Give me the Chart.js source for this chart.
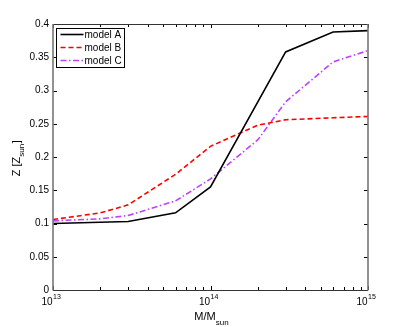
<!DOCTYPE html>
<html>
<head>
<meta charset="utf-8">
<script src="https://cdn.jsdelivr.net/npm/chart.js@4/dist/chart.umd.min.js"></script>
<style>
html,body{margin:0;padding:0;background:#fff;}
canvas{display:block;}
</style>
</head>
<body>
<canvas id="c" width="406" height="327"></canvas>
<script>
// ---- data ----
const massA = [1e13, 3e13, 6e13, 1e14, 3e14, 6e14, 1e15];
const modelA = [0.100, 0.103, 0.116, 0.155, 0.358, 0.388, 0.390];
const massBC = [1e13, 2e13, 3e13, 6e13, 1e14, 2e14, 3e14, 6e14, 1e15];
const modelB = [0.106, 0.116, 0.128, 0.174, 0.216, 0.248, 0.256, 0.259, 0.261];
const modelC = [0.104, 0.107, 0.112, 0.134, 0.167, 0.226, 0.283, 0.343, 0.360];
const seriesNames = ['model A', 'model B', 'model C'];
const yTicks = [0, 0.05, 0.1, 0.15, 0.2, 0.25, 0.3, 0.35, 0.4];
const xMajor = [1e13, 1e14, 1e15];
const xMajorExp = ['13', '14', '15'];

const FONT = '"Liberation Sans", Arial, Helvetica, sans-serif';
const pts = (xs, ys) => xs.map((x, i) => ({x: x, y: ys[i]}));

const framePlugin = {
  id: 'frame',
  afterDraw(chart) {
    const ctx = chart.ctx;
    const a = chart.chartArea;
    const xs = chart.scales.x, ys = chart.scales.y;
    ctx.save();
    // ticks
    ctx.strokeStyle = '#000';
    ctx.lineWidth = 1;
    ctx.beginPath();
    yTicks.forEach(v => {
      const y = Math.round(ys.getPixelForValue(v)) + 0.5;
      ctx.moveTo(a.left, y); ctx.lineTo(a.left + 4, y);
      ctx.moveTo(a.right, y); ctx.lineTo(a.right - 4, y);
    });
    for (let d = 13; d < 15; d++) {
      for (let m = 1; m <= 10; m++) {
        const v = m * Math.pow(10, d);
        const x = Math.round(xs.getPixelForValue(v)) + 0.5;
        const len = (m === 1 || m === 10) ? 4 : 3;
        ctx.moveTo(x, a.bottom); ctx.lineTo(x, a.bottom - len);
        ctx.moveTo(x, a.top); ctx.lineTo(x, a.top + len);
      }
    }
    ctx.stroke();
    // frame
    ctx.strokeStyle = '#333';
    ctx.lineWidth = 1;
    ctx.beginPath();
    ctx.moveTo(a.left, Math.round(a.top) + 0.5); ctx.lineTo(a.right, Math.round(a.top) + 0.5);
    ctx.moveTo(a.left, Math.round(a.bottom) + 0.5); ctx.lineTo(a.right, Math.round(a.bottom) + 0.5);
    ctx.stroke();
    ctx.strokeStyle = '#777';
    ctx.lineWidth = 1.6;
    ctx.beginPath();
    ctx.moveTo(a.left, a.top); ctx.lineTo(a.left, a.bottom + 0.5);
    ctx.moveTo(a.right, a.top); ctx.lineTo(a.right, a.bottom + 0.5);
    ctx.stroke();

    // x tick labels with superscripts
    ctx.fillStyle = '#000';
    ctx.textBaseline = 'alphabetic';
    xMajor.forEach((v, i) => {
      const x = xs.getPixelForValue(v);
      ctx.font = '10px ' + FONT;
      ctx.textAlign = 'right';
      ctx.fillText('10', x - 0.5, a.bottom + 15);
      ctx.font = '7px ' + FONT;
      ctx.textAlign = 'left';
      ctx.fillText(xMajorExp[i], x, a.bottom + 9);
    });
    // x title
    const cx = (a.left + a.right) / 2;
    ctx.font = '11px ' + FONT;
    ctx.textAlign = 'left';
    const t1 = 'M/M';
    const w1 = ctx.measureText(t1).width;
    ctx.font = '8px ' + FONT;
    const w2 = ctx.measureText('sun').width;
    const sx = cx - (w1 + w2) / 2 + 1;
    ctx.font = '11px ' + FONT;
    ctx.fillText(t1, sx, a.bottom + 30);
    ctx.font = '8px ' + FONT;
    ctx.fillText('sun', sx + w1, a.bottom + 35);

    // y title rotated
    ctx.save();
    ctx.translate(19.5, 158.5);
    ctx.rotate(-Math.PI / 2);
    ctx.font = '11px ' + FONT;
    const p1 = 'Z [Z', p3 = ']';
    const q1 = ctx.measureText(p1).width, q3 = ctx.measureText(p3).width;
    ctx.font = '8px ' + FONT;
    const q2 = ctx.measureText('sun').width;
    let tx = -(q1 + q2 + q3) / 2;
    ctx.textAlign = 'left';
    ctx.font = '11px ' + FONT;
    ctx.fillText(p1, tx, 0);
    ctx.font = '8px ' + FONT;
    ctx.fillText('sun', tx + q1, 4);
    ctx.font = '11px ' + FONT;
    ctx.fillText(p3, tx + q1 + q2 + 0.5, 0);
    ctx.restore();

    // legend
    const lx = a.left + 3.5, ly = a.top + 4.5, lw = 68, lh = 39;
    ctx.fillStyle = '#fff';
    ctx.fillRect(lx, ly, lw, lh);
    ctx.strokeStyle = '#000';
    ctx.lineWidth = 1;
    ctx.strokeRect(lx, ly, lw, lh);
    chart.data.datasets.forEach((ds, i) => {
      const yy = ly + 6 + i * 13;
      ctx.strokeStyle = ds.borderColor;
      ctx.lineWidth = ds.borderWidth;
      ctx.setLineDash(ds.borderDash || []);
      ctx.beginPath();
      ctx.moveTo(lx + 4, yy); ctx.lineTo(lx + 27, yy);
      ctx.stroke();
      ctx.setLineDash([]);
      ctx.fillStyle = '#000';
      ctx.font = '10px ' + FONT;
      ctx.textAlign = 'left';
      ctx.textBaseline = 'middle';
      ctx.fillText(ds.label, lx + 28, yy + 0.5);
    });
    ctx.restore();
  }
};

new Chart(document.getElementById('c'), {
  type: 'line',
  data: {
    datasets: [
      {label: seriesNames[0], data: pts(massA, modelA), borderColor: '#000000', borderWidth: 1.6, pointRadius: 0, tension: 0, fill: false},
      {label: seriesNames[1], data: pts(massBC, modelB), borderColor: '#ff0000', borderWidth: 1.6, borderDash: [5, 3], pointRadius: 0, tension: 0, fill: false},
      {label: seriesNames[2], data: pts(massBC, modelC), borderColor: '#bf40ff', borderWidth: 1.6, borderDash: [6, 2.5, 1.5, 2.5], pointRadius: 0, tension: 0, fill: false}
    ]
  },
  options: {
    responsive: false,
    animation: false,
    devicePixelRatio: 1,
    layout: {padding: {left: 0, right: 38, top: 24, bottom: 0}},
    plugins: {legend: {display: false}, tooltip: {enabled: false}},
    scales: {
      x: {
        type: 'logarithmic', min: 1e13, max: 1e15,
        grid: {display: false}, border: {display: false},
        ticks: {display: false},
        afterFit(s) { s.height = 37; }
      },
      y: {
        type: 'linear', min: 0, max: 0.4,
        grid: {display: false, drawTicks: false}, border: {display: false},
        afterBuildTicks(s) { s.ticks = yTicks.map(v => ({value: v})); },
        ticks: {
          color: '#000', padding: 4,
          font: {family: FONT, size: 10},
          callback: v => String(Number(v.toFixed(2)))
        },
        afterFit(s) { s.width = 53; }
      }
    }
  },
  plugins: [framePlugin]
});
</script>
</body>
</html>
